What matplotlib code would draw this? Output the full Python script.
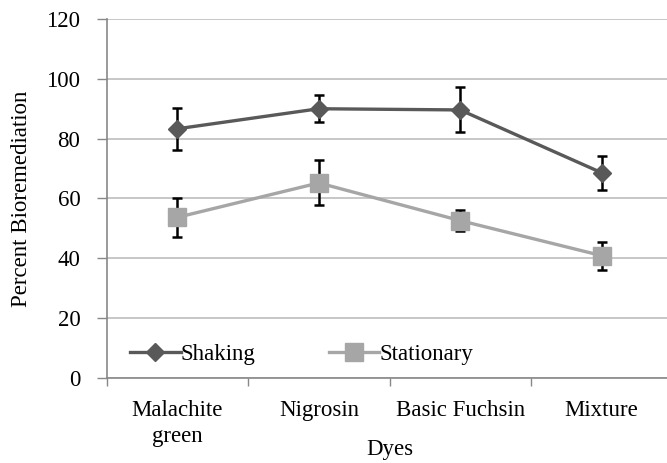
import matplotlib
matplotlib.use("Agg")
import matplotlib.pyplot as plt
import numpy as np

categories = ["Malachite\ngreen", "Nigrosin", "Basic Fuchsin", "Mixture"]
shaking = [83.3, 90.0, 89.6, 68.6]
shaking_err = [7.0, 4.5, 7.5, 5.6]
stationary = [53.7, 65.2, 52.6, 40.9]
stationary_err = [6.5, 7.5, 3.6, 4.7]
y_ticks = [0, 20, 40, 60, 80, 100, 120]

plt.rcParams['font.family'] = ['Liberation Serif', 'DejaVu Serif']
FS = 16.5

fig = plt.figure(figsize=(6.67, 4.63), dpi=100)
ax = fig.add_axes([0.160, 0.1836, 0.848, 0.7754])

x = np.arange(len(categories))
c_shake = "#595959"
c_stat = "#a6a6a6"

ax.errorbar(x, shaking, yerr=shaking_err, fmt='none', ecolor='black',
            elinewidth=1.8, capsize=3.8, capthick=1.8, zorder=4)
ax.errorbar(x, stationary, yerr=stationary_err, fmt='none', ecolor='black',
            elinewidth=1.8, capsize=3.8, capthick=1.8, zorder=4)
ax.plot(x, shaking, color=c_shake, lw=2.4, marker='D', ms=9.5,
        label="Shaking", zorder=5)
ax.plot(x, stationary, color=c_stat, lw=2.4, marker='s', ms=12.5,
        label="Stationary", zorder=5)

ax.set_xlim(-0.5, len(categories) - 0.5)
ax.set_ylim(0, 120)
ax.set_yticks(y_ticks)
ax.set_xticks(x)
ax.set_xticklabels(categories, fontsize=FS, linespacing=1.3)
ax.tick_params(axis='x', length=0, pad=16)
ax.set_xticks(np.arange(-0.5, len(categories) + 0.5, 1), minor=True)
ax.tick_params(axis='x', which='minor', length=6, color='#888888', width=1)
ax.tick_params(axis='y', labelsize=FS, length=7, color='#888888', width=1,
               pad=12)
ax.grid(axis='y', color='#bdbdbd', lw=1.2)
ax.set_axisbelow(True)
for s in ['top', 'right']:
    ax.spines[s].set_visible(False)
for s in ['left', 'bottom']:
    ax.spines[s].set_color('#888888')
    ax.spines[s].set_linewidth(1.2)

ax.set_ylabel("Percent Bioremediation", fontsize=FS, labelpad=10)
ax.set_xlabel("Dyes", fontsize=FS, labelpad=-6)

leg = ax.legend(loc='lower left', bbox_to_anchor=(0.005, -0.02), ncol=2,
                frameon=False, fontsize=FS, handlelength=2.2,
                handletextpad=0.0, columnspacing=3.2)

fig.savefig("out.png", dpi=100)
